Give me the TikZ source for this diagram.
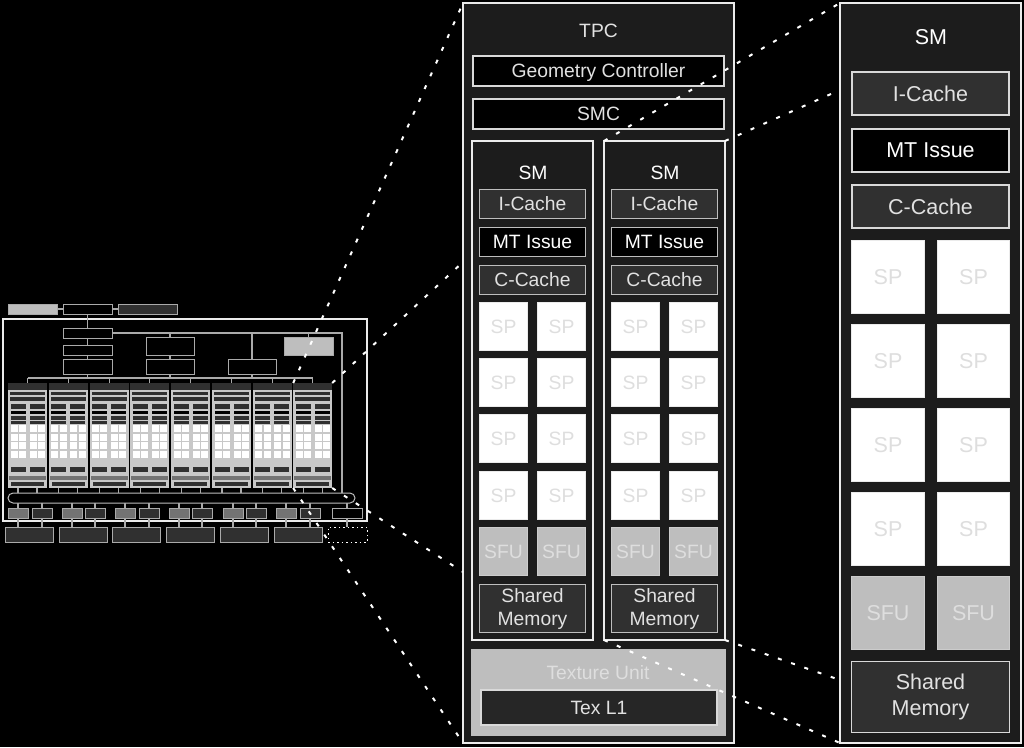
\documentclass[tikz,border=0pt]{standalone}
\usepackage{fontspec}
\setmainfont{Liberation Sans}
\usepackage{tikz}
\usetikzlibrary{backgrounds}
\definecolor{panelFill}{RGB}{28, 28, 28}
\definecolor{cacheFill}{RGB}{48, 48, 48}
\definecolor{edgeColor}{RGB}{190, 190, 190}
\definecolor{labelColor}{RGB}{225, 225, 225}
\definecolor{sfuFill}{RGB}{190, 190, 190}
\definecolor{spLabel}{RGB}{222, 222, 222}
\definecolor{wireColor}{RGB}{170, 170, 170}
\tikzset{
    base_box/.style={
        rectangle,
        draw=edgeColor,
        line width=1.2pt,
        inner sep=0pt,
        outer sep=0pt,
        text=labelColor,
        align=center
    },
    panel_box/.style={
        base_box,
        draw=white!92!black,
        line width=2pt,
        fill=panelFill
    },
    black_box/.style={
        base_box,
        draw=white!85!black,
        line width=2pt,
        fill=black
    },
    cache_box/.style={
        base_box,
        fill=cacheFill
    },
    issue_box/.style={
        base_box,
        fill=black
    },
    big_edge/.style={
        draw=white!85!black,
        line width=2pt
    },
    sp_box/.style={
        base_box,
        draw=white!92!black,
        fill=white,
        text=spLabel
    },
    sfu_box/.style={
        base_box,
        draw=white!80!black,
        fill=sfuFill,
        text=spLabel
    },
    texture_box/.style={
        base_box,
        draw=edgeColor,
        line width=2pt,
        fill=sfuFill,
        text=spLabel
    },
    mid_text/.style={font=\fontsize{19.3}{23}\selectfont},
    big_text/.style={font=\fontsize{21.5}{26}\selectfont},
    chip_box/.style={
        base_box,
        draw=wireColor,
        line width=1pt
    },
    flat_bar/.style={
        rectangle,
        inner sep=0pt,
        outer sep=0pt
    },
    wire/.style={
        draw=wireColor,
        line width=1.1pt
    },
    zoom_line/.style={
        draw=white,
        line width=2pt,
        dash pattern=on 4pt off 10pt
    }
}
% node from its two corners
\newcommand{\rectnode}[6][]{
    \node[#1, minimum width={((#5)-(#3))*1pt}, minimum height={((#6)-(#4))*1pt}]
        (#2) at ({((#3)+(#5))/2},{((#4)+(#6))/2}) {};
}
\newcommand{\textrect}[7][]{
    \node[#1, minimum width={((#5)-(#3)-1.2)*1pt}, minimum height={((#6)-(#4)-1.2)*1pt}]
        (#2) at ({((#3)+(#5))/2},{((#4)+(#6))/2}) {#7};
}
\begin{document}
\begin{tikzpicture}[x=1pt, y=-1pt]
    \useasboundingbox[fill=black] (0,0) rectangle (1024,747);

    % whole chip
    \rectnode[base_box, draw=white!92!black, line width=2pt, fill=black]{chip}{3}{319}{367}{521}
    \rectnode[chip_box, fill=sfuFill]{hostGrey}{8}{304}{57}{314}
    \rectnode[chip_box, fill=black]{hostMain}{63}{304}{112}{314}
    \rectnode[chip_box, fill=cacheFill]{hostDark}{118}{304}{177}{314}
    \rectnode[chip_box, fill=black]{viewA}{63}{328}{112}{338}
    \rectnode[chip_box, fill=black]{viewB}{63}{345}{112}{355}
    \rectnode[chip_box, fill=black]{viewC}{63}{359}{112}{374}
    \rectnode[chip_box, fill=black]{rastA}{146}{337}{194}{355}
    \rectnode[chip_box, fill=black]{rastB}{146}{359}{194}{374}
    \rectnode[chip_box, fill=black]{pixelA}{228}{359}{276}{374}
    \rectnode[flat_bar, fill=sfuFill, draw=wireColor]{hostBox}{284}{337}{333}{355}
    \rectnode[base_box, draw=edgeColor, line width=1pt, fill=black, rounded corners=5pt]{bus}{8}{493}{355}{503}
    \coordinate (treeL) at (28,378);
    \coordinate (treeR) at (313,378);
    \coordinate (ctrlEnd) at (342,333);
    \draw[wire] (hostGrey) -- (hostMain);
    \draw[wire] (hostMain) -- (hostDark);
    \draw[wire] (hostMain) -- (viewA);
    \draw[wire] (viewA) -- (viewB);
    \draw[wire] (viewB) -- (viewC);
    \draw[wire] (viewC) -- (viewC |- treeL);
    \draw[wire] (treeL) -- (treeR);
    \draw[wire] (viewA.east) -- (ctrlEnd) -- (ctrlEnd |- bus.north);
    \draw[wire] (rastA.north |- ctrlEnd) -- (rastA.north);
    \draw[wire] (rastA) -- (rastB);
    \draw[wire] (rastB) -- (rastB |- treeL);
    \draw[wire] (pixelA.north |- ctrlEnd) -- (pixelA.north);
    \draw[wire] (pixelA) -- (pixelA |- treeL);
    \draw[wire] (hostBox.north) -- (hostBox.north |- ctrlEnd);

    % eight small clusters
    \foreach \i/\xa in {1/8,2/48.8,3/89.6,4/130.4,5/171.2,6/212,7/252.8,8/293.2}{
        \rectnode[flat_bar, fill=sfuFill!85!white]{col\i}{\xa}{383}{\xa+39}{488}
        \rectnode[flat_bar, fill=cacheFill]{colTop\i}{\xa}{383}{\xa+39}{390}
        \rectnode[flat_bar, fill=cacheFill]{colBarA\i}{\xa+2}{392}{\xa+37}{395}
        \rectnode[flat_bar, fill=cacheFill]{colBarB\i}{\xa+2}{397}{\xa+37}{401}
        \rectnode[flat_bar, fill=black!55]{colBarC\i}{\xa+1}{476}{\xa+38}{480}
        \rectnode[flat_bar, fill=cacheFill]{colBarD\i}{\xa+3}{482}{\xa+36}{486}
        \draw[wire] (col\i.north) -- (col\i.north |- treeL);
        \foreach \s/\xb in {L/2.5,R/21.5}{
            \rectnode[flat_bar]{sm\s\i}{\xa+\xb}{403}{\xa+\xb+15}{474}
            \rectnode[flat_bar, fill=cacheFill]{smA\s\i}{\xa+\xb}{404}{\xa+\xb+15}{409}
            \rectnode[flat_bar, fill=black]{smB\s\i}{\xa+\xb}{410.5}{\xa+\xb+15}{414}
            \rectnode[flat_bar, fill=cacheFill]{smC\s\i}{\xa+\xb}{416}{\xa+\xb+15}{419.5}
            \rectnode[flat_bar, fill=cacheFill]{smD\s\i}{\xa+\xb}{421}{\xa+\xb+15}{424}
            \foreach \yc in {425,433.5,442,451}{
                \fill[white] (\xa+\xb,\yc) rectangle +(7,7);
                \fill[white] (\xa+\xb+8.2,\yc) rectangle +(7,7);
            }
            \rectnode[flat_bar, fill=cacheFill]{smE\s\i}{\xa+\xb}{467}{\xa+\xb+15}{472}
            \draw[wire] (col\i.south -| sm\s\i) -- (bus.north -| sm\s\i);
        }
    }

    % frame buffer row
    \foreach \n/\xa/\cc in {a/8/black!55,b/32/cacheFill,c/62/black!55,d/85/cacheFill,e/115/black!55,f/139/cacheFill,g/169/black!55,h/192/cacheFill,k/223/black!55,m/246/cacheFill,p/276/black!55,q/300/cacheFill}{
        \rectnode[chip_box, fill=\cc]{rop\n}{\xa}{508}{\xa+20}{518}
        \draw[wire] (bus.south -| rop\n) -- (rop\n);
    }
    \rectnode[chip_box, fill=black]{ropBox}{332}{508}{362}{518}
    \draw[wire] (bus.south -| ropBox) -- (ropBox);
    \foreach \n/\xa/\ra/\rb in {a/5/a/b,b/59/c/d,c/112.5/e/f,d/166/g/h,e/220/k/m,f/274/p/q}{
        \rectnode[chip_box, fill=cacheFill]{dram\n}{\xa}{527}{\xa+48}{542}
        \draw[wire] (rop\ra) -- (dram\n.north -| rop\ra);
        \draw[wire] (rop\rb) -- (dram\n.north -| rop\rb);
    }
    \rectnode[flat_bar, draw=white, line width=1pt, dash pattern=on 1.5pt off 3pt]{dramOpen}{328}{527}{367}{542}
    \draw[wire] (ropBox) -- (dramOpen.north -| ropBox);

    % TPC panel
    \rectnode[panel_box]{tpcPanel}{463}{3}{734}{743}
    \node[mid_text, text=labelColor] (tpcTitle) at (598.5,31) {TPC};
    \textrect[black_box, mid_text, text depth=0pt]{geomCtrl}{472}{55}{725}{87}{Geometry Controller}
    \textrect[black_box, mid_text]{smcBox}{472}{98}{725}{130}{SMC}
    \foreach \n/\xa in {A/472,B/604}{
        \rectnode[panel_box]{sm\n}{\xa}{141}{\xa+121}{640}
        \node[mid_text, text=white] (smTitle\n) at (\xa+61,173) {SM};
        \textrect[cache_box, mid_text]{iCache\n}{\xa+7}{189}{\xa+114}{219}{I-Cache}
        \textrect[issue_box, mid_text, text=white]{mtIssue\n}{\xa+7}{227}{\xa+114}{257}{MT Issue}
        \textrect[cache_box, mid_text]{cCache\n}{\xa+7}{265}{\xa+114}{295}{C-Cache}
        \foreach \r/\ya in {1/302,2/358,3/414,4/471}{
            \textrect[sp_box, mid_text]{spL\n\r}{\xa+7}{\ya}{\xa+56}{\ya+49}{SP}
            \textrect[sp_box, mid_text]{spR\n\r}{\xa+65}{\ya}{\xa+114}{\ya+49}{SP}
        }
        \textrect[sfu_box, mid_text]{sfuL\n}{\xa+7}{527}{\xa+56}{576}{SFU}
        \textrect[sfu_box, mid_text]{sfuR\n}{\xa+65}{527}{\xa+114}{576}{SFU}
        \textrect[cache_box, mid_text]{shared\n}{\xa+7}{584}{\xa+114}{633}{Shared\\Memory}
    }
    \rectnode[texture_box]{texUnit}{472}{650}{725}{735}
    \node[mid_text, text=spLabel] (texTitle) at (598,673) {Texture Unit};
    \textrect[base_box, draw=white!85!black, line width=2pt, fill=cacheFill!80!black, mid_text]{texL}{480}{689}{718}{726}{Tex L1}

    % SM panel
    \rectnode[panel_box]{smPanel}{840}{3}{1021}{743}
    \node[big_text, text=white] (smPanelTitle) at (931,37) {SM};
    \textrect[cache_box, big_text, big_edge]{iCacheBig}{851}{71}{1010}{116}{I-Cache}
    \textrect[issue_box, big_text, big_edge, text=white]{mtIssueBig}{851}{128}{1010}{173}{MT Issue}
    \textrect[cache_box, big_text, big_edge]{cCacheBig}{851}{184}{1010}{229}{C-Cache}
    \foreach \r/\ya in {1/240,2/324,3/408,4/492}{
        \textrect[sp_box, big_text]{spBigL\r}{851}{\ya}{925}{\ya+74}{SP}
        \textrect[sp_box, big_text]{spBigR\r}{937}{\ya}{1010}{\ya+74}{SP}
    }
    \textrect[sfu_box, big_text]{sfuBigL}{851}{576}{925}{650}{SFU}
    \textrect[sfu_box, big_text]{sfuBigR}{937}{576}{1010}{650}{SFU}
    \textrect[cache_box, big_text, big_edge, line width=1.5pt]{sharedBig}{851}{661}{1010}{733}{Shared\\Memory}

    % zoom lines
    \coordinate (tpcEdgeA) at (463,262);
    \coordinate (tpcEdgeB) at (463,572);
    \coordinate (smEdgeA) at (840,90);
    \coordinate (smEdgeB) at (840,680);
    \draw[zoom_line] (col8.north west) -- (tpcPanel.north west);
    \draw[zoom_line] (col8.north east) -- (tpcEdgeA);
    \draw[zoom_line] (col8.south east) -- (tpcEdgeB);
    \draw[zoom_line] (col8.south west) -- (tpcPanel.south west);
    \draw[zoom_line] (smB.north west) -- (smPanel.north west);
    \draw[zoom_line] (smB.north east) -- (smEdgeA);
    \draw[zoom_line] (smB.south east) -- (smEdgeB);
    \draw[zoom_line] (smB.south west) -- (smPanel.south west);
\end{tikzpicture}
\end{document}
